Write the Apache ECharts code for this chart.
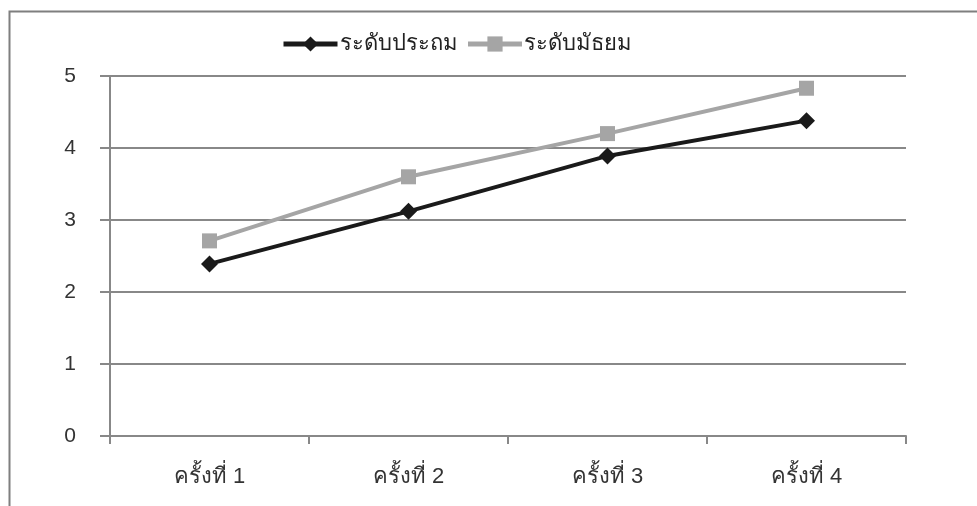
<!DOCTYPE html>
<html><head><meta charset="utf-8">
<script src="https://cdn.jsdelivr.net/npm/echarts@6/dist/echarts.min.js"></script>
<style>html,body{margin:0;padding:0;background:#fff}#c{width:977px;height:506px}</style>
</head><body><div id="c"></div>
<script>
const categories = ['ครั้งที่ 1', 'ครั้งที่ 2', 'ครั้งที่ 3', 'ครั้งที่ 4'];
const primaryName = 'ระดับประถม';
const secondaryName = 'ระดับมัธยม';
const primaryValues = [2.39, 3.12, 3.89, 4.38];
const secondaryValues = [2.71, 3.60, 4.20, 4.83];
const yTicks = [0, 1, 2, 3, 4, 5];

const font = '"Liberation Sans Narrow", "Liberation Sans", sans-serif';
const chart = echarts.init(document.getElementById('c'), null, {renderer: 'canvas'});
chart.setOption({
  animation: false,
  backgroundColor: '#fff',
  graphic: [{
    type: 'rect', left: 7, top: 9, silent: true,
    shape: {width: 1000, height: 600},
    style: {fill: 'none', stroke: '#7f7f7f', lineWidth: 2}
  }],
  legend: {
    top: 33, left: 281, itemGap: 8, itemWidth: 54, itemHeight: 19, padding: 0,
    textStyle: {fontFamily: font, fontSize: 22, color: '#222', padding: [0, 0, 0, -3]},
    lineStyle: {width: 5},
    data: [primaryName, secondaryName]
  },
  grid: {left: 110, right: 71, top: 76, bottom: 70, containLabel: false},
  xAxis: {
    type: 'category', data: categories, boundaryGap: true,
    axisLine: {lineStyle: {color: '#888', width: 2}},
    axisTick: {show: true, length: 8, lineStyle: {color: '#888', width: 2}},
    axisLabel: {fontFamily: font, fontSize: 22, color: '#333', margin: 30},
    splitLine: {show: false}
  },
  yAxis: {
    type: 'value', min: yTicks[0], max: yTicks[yTicks.length - 1], interval: 1,
    axisLine: {show: true, lineStyle: {color: '#888', width: 2}},
    axisTick: {show: true, length: 10, lineStyle: {color: '#888', width: 2}},
    axisLabel: {fontFamily: font, fontSize: 21, color: '#333', margin: 34},
    splitLine: {show: true, lineStyle: {color: '#888', width: 2}}
  },
  series: [{
    name: primaryName, type: 'line', data: primaryValues,
    symbol: 'diamond', symbolSize: 17,
    lineStyle: {color: '#1a1a1a', width: 4},
    itemStyle: {color: '#1a1a1a'}, z: 3
  }, {
    name: secondaryName, type: 'line', data: secondaryValues,
    symbol: 'rect', symbolSize: 15,
    lineStyle: {color: '#a5a5a5', width: 4},
    itemStyle: {color: '#a5a5a5'}, z: 2
  }]
});
</script></body></html>
